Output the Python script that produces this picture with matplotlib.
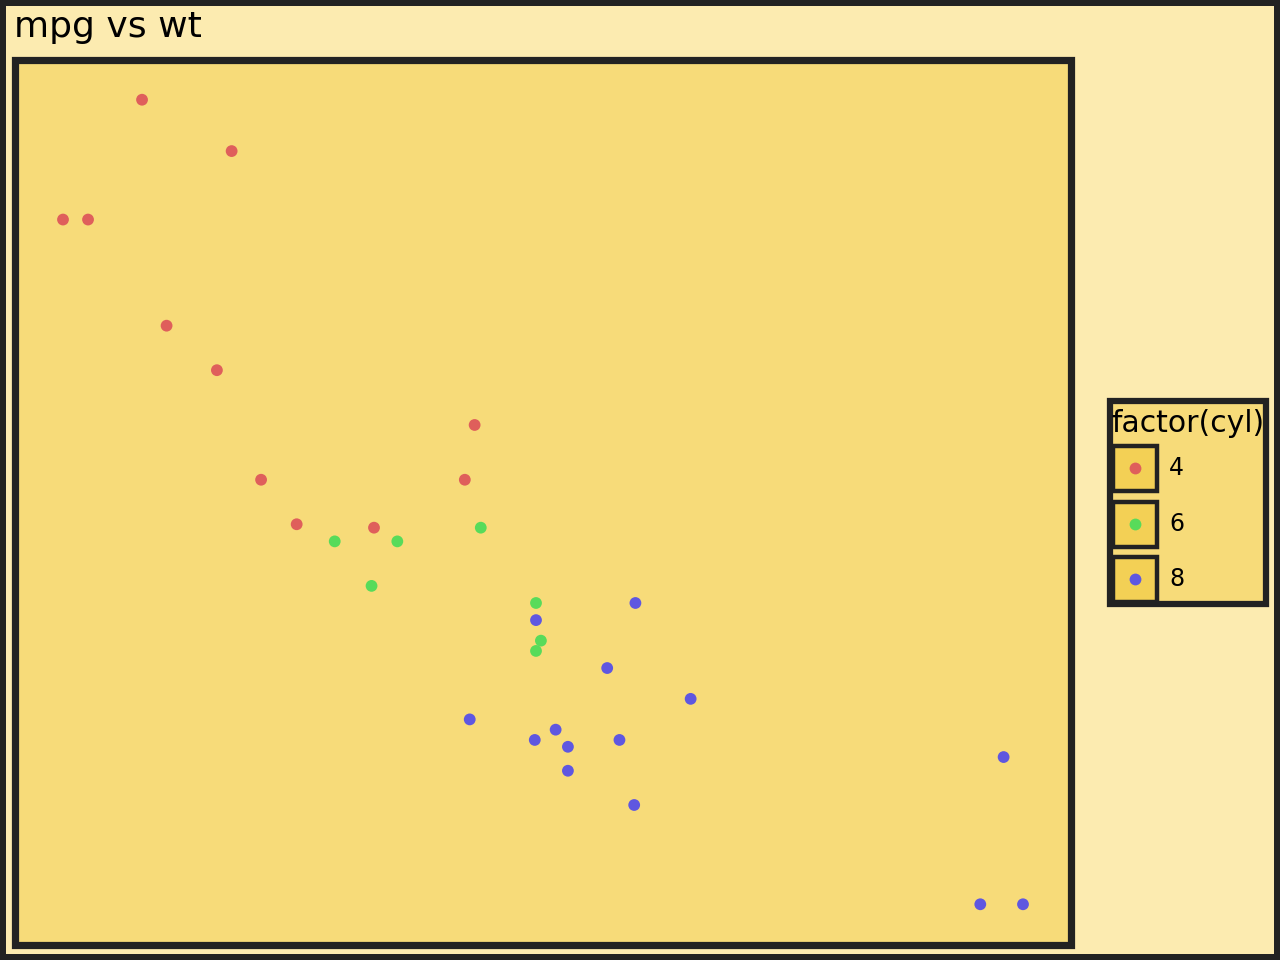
import matplotlib.pyplot as plt
from matplotlib.patches import Rectangle
from matplotlib.lines import Line2D

# mtcars: weight (1000 lbs), miles per gallon, cylinders
wt = [2.620, 2.875, 2.320, 3.215, 3.440, 3.460, 3.570, 3.190, 3.150, 3.440,
      3.440, 4.070, 3.730, 3.780, 5.250, 5.424, 5.345, 2.200, 1.615, 1.835,
      2.465, 3.520, 3.435, 3.840, 3.845, 1.935, 2.140, 1.513, 3.170, 2.770,
      3.570, 2.780]
mpg = [21.0, 21.0, 22.8, 21.4, 18.7, 18.1, 14.3, 24.4, 22.8, 19.2,
       17.8, 16.4, 17.3, 15.2, 10.4, 10.4, 14.7, 32.4, 30.4, 33.9,
       21.5, 15.5, 15.2, 13.3, 19.2, 27.3, 26.0, 30.4, 15.8, 19.7,
       15.0, 21.4]
cyl = [6, 6, 4, 6, 8, 6, 8, 4, 4, 6,
       6, 8, 8, 8, 8, 8, 8, 4, 4, 4,
       4, 8, 8, 8, 8, 4, 4, 4, 8, 6,
       8, 4]
levels = [4, 6, 8]
colors = {4: "#DF5F5B", 6: "#58DB5A", 8: "#5F57E0"}

W, H = 1280, 960
dark = "#222222"

fig = plt.figure(figsize=(12.8, 9.6), dpi=100, facecolor="#FCEBB0",
                 edgecolor=dark, linewidth=7.5)

# panel
ax = fig.add_axes([15 / W, 1 - 944.5 / H, 1056 / W, 885 / H])
ax.set_facecolor("#F7DB79")
for s in ax.spines.values():
    s.set_visible(False)
ax.add_patch(Rectangle((0, 0), 1, 1, transform=ax.transAxes, fill=False,
                       edgecolor=dark, linewidth=5.2, joinstyle="miter",
                       clip_on=False, zorder=5))
ax.set_xticks([])
ax.set_yticks([])

for lv in levels:
    xs = [w for w, c in zip(wt, cyl) if c == lv]
    ys = [m for m, c in zip(mpg, cyl) if c == lv]
    ax.scatter(xs, ys, s=72, color=colors[lv], edgecolors="none", zorder=3)

xr = max(wt) - min(wt)
yr = max(mpg) - min(mpg)
ax.set_xlim(min(wt) - 0.05 * xr, max(wt) + 0.05 * xr)
ax.set_ylim(min(mpg) - 0.05 * yr, max(mpg) + 0.05 * yr)

fig.text(14 / W, 1 - 27 / H, "mpg vs wt", fontsize=26, va="center", ha="left")

# legend drawn by hand (key boxes have borders)
def fx(px):
    return px / W

def fy(py):
    return 1 - py / H

fig.add_artist(Rectangle((fx(1110), fy(604)), (1266 - 1110) / W, (604 - 401) / H,
                         transform=fig.transFigure, facecolor="#F7DB79",
                         edgecolor=dark, linewidth=4.5, joinstyle="miter"))
fig.text(fx(1111), fy(424), "factor(cyl)", fontsize=21.5, va="center", ha="left")

key_y = [468, 524, 579]
for lv, ky in zip(levels, key_y):
    fig.add_artist(Rectangle((fx(1113), fy(ky + 22.5)), 44 / W, 45 / H,
                             transform=fig.transFigure, facecolor="#F3D055",
                             edgecolor=dark, linewidth=3.2, joinstyle="miter"))
    fig.add_artist(Line2D([fx(1135)], [fy(ky)], transform=fig.transFigure,
                          marker="o", markersize=8.5, color=colors[lv],
                          markeredgewidth=0, linestyle="none"))
    fig.text(fx(1169), fy(ky), str(lv), fontsize=17, va="center", ha="left")

fig.savefig("out.png", dpi=100, facecolor=fig.get_facecolor(),
            edgecolor=fig.get_edgecolor())
